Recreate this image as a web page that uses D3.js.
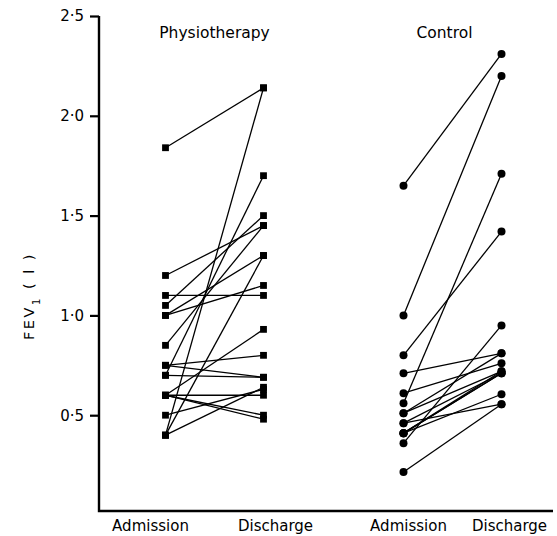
<!DOCTYPE html>
<html><head><meta charset="utf-8">
<script src="https://cdn.jsdelivr.net/npm/d3@7"></script>
<style>html,body{margin:0;padding:0;background:#fff;}svg{display:block;}</style>
</head><body>
<script>
// ---- data ----
const groups = ["Physiotherapy", "Control"];
const times = ["Admission", "Discharge"];
const yTicks = [0.5, 1.0, 1.5, 2.0, 2.5];
const physioAdmission = [1.84, 0.40, 0.70, 1.05, 1.20, 0.85, 1.00, 0.40, 1.00, 1.10, 0.60, 0.75, 0.75, 0.70, 0.60, 0.60, 0.60, 0.50, 0.40];
const physioDischarge = [2.14, 2.14, 1.70, 1.50, 1.45, 1.45, 1.30, 1.30, 1.15, 1.10, 0.93, 0.80, 0.69, 0.69, 0.60, 0.50, 0.48, 0.63, 0.64];
const controlAdmission = [1.65, 1.00, 0.56, 0.80, 0.36, 0.71, 0.51, 0.61, 0.46, 0.41, 0.41, 0.51, 0.41, 0.46, 0.215, 0.41];
const controlDischarge = [2.31, 2.20, 1.71, 1.42, 0.95, 0.81, 0.81, 0.76, 0.71, 0.71, 0.72, 0.72, 0.605, 0.555, 0.555, 0.71];

const W = 557, H = 536;
const svg = d3.select("body").append("svg").attr("width", W).attr("height", H);
const font = "'DejaVu Sans', sans-serif";

const y = d3.scaleLinear().domain([0, 2.5]).range([515, 16]);
const gx = d3.scalePoint().domain(groups).range([214.5, 452.5]);
const tx = d3.scalePoint().domain(times).range([-49, 49]);
const X = (g, t) => gx(g) + tx(t);

// axes
const yAxis = d3.axisLeft(y).tickValues(yTicks).tickSize(9).tickPadding(6)
  .tickFormat(d => d3.format(".1f")(d).replace(".", "\u00B7"));
const ya = svg.append("g").attr("transform", "translate(99,0)").call(yAxis);
ya.select(".domain").remove();
ya.selectAll(".tick line").attr("stroke", "#000").attr("stroke-width", 2.2);
ya.selectAll(".tick text").attr("font-family", font).attr("font-size", 15).attr("fill", "#000");
svg.append("path").attr("d", `M99,${y(2.5)}V511H553`).attr("fill", "none")
  .attr("stroke", "#000").attr("stroke-width", 2.4);

// x labels
const labelDx = {"Physiotherapy": [-15, 12], "Control": [5, 8]};
groups.forEach(g => times.forEach((t, i) => {
  svg.append("text").attr("x", X(g, t) + labelDx[g][i]).attr("y", 531)
    .attr("text-anchor", "middle").attr("font-family", font).attr("font-size", 15)
    .text(t);
}));

// titles
groups.forEach(g => {
  svg.append("text").attr("x", gx(g) - (g === "Control" ? 8 : 0)).attr("y", 38)
    .attr("text-anchor", "middle").attr("font-family", font).attr("font-size", 15.5)
    .text(g);
});

// y label
svg.append("text").attr("transform", "translate(34,296) rotate(-90)")
  .attr("text-anchor", "middle").attr("font-family", font).attr("font-size", 14.5)
  .attr("letter-spacing", 2.5)
  .html('FEV<tspan baseline-shift="sub" font-size="10">1</tspan>  ( l )');

// data lines & markers
const sets = [
  {g: "Physiotherapy", a: physioAdmission, d: physioDischarge, shape: "square"},
  {g: "Control", a: controlAdmission, d: controlDischarge, shape: "circle"}
];
sets.forEach(s => {
  const pairs = s.a.map((v, i) => [v, s.d[i]]);
  const gg = svg.append("g");
  gg.selectAll("line").data(pairs).join("line")
    .attr("x1", X(s.g, "Admission")).attr("y1", p => y(p[0]))
    .attr("x2", X(s.g, "Discharge")).attr("y2", p => y(p[1]))
    .attr("stroke", "#000").attr("stroke-width", 1.3);
  const pts = [];
  pairs.forEach(p => { pts.push([X(s.g, "Admission"), p[0]]); pts.push([X(s.g, "Discharge"), p[1]]); });
  if (s.shape === "square") {
    gg.selectAll("rect").data(pts).join("rect")
      .attr("x", p => p[0] - 3.4).attr("y", p => y(p[1]) - 3.4)
      .attr("width", 6.8).attr("height", 6.8).attr("fill", "#000");
  } else {
    gg.selectAll("circle").data(pts).join("circle")
      .attr("cx", p => p[0]).attr("cy", p => y(p[1])).attr("r", 4).attr("fill", "#000");
  }
});
</script>
</body></html>
